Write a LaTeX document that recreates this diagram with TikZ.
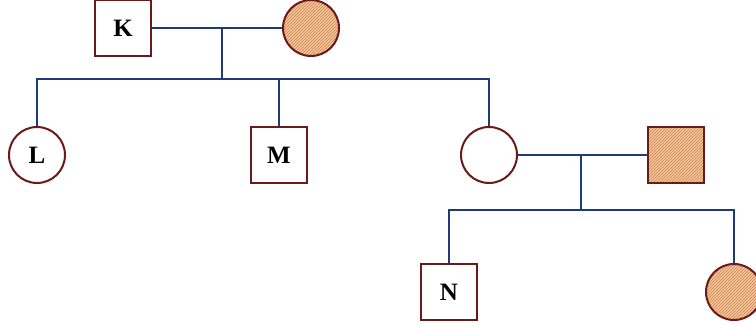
\documentclass[tikz,border=0pt]{standalone}
\usetikzlibrary{patterns}
\usepackage{fontspec}
\setmainfont{Liberation Serif}
\definecolor{edge}{HTML}{6B1A1A}
\definecolor{link}{HTML}{1F3A78}
\definecolor{hatchbg}{HTML}{F3C9A0}
\definecolor{hatchfg}{HTML}{D07E48}
\newcommand{\pedfont}{\fontsize{25}{28}\selectfont\bfseries}
\tikzset{
  male/.style={draw=edge, line width=2pt, minimum size=56pt, inner sep=0pt, fill=white, font=\pedfont},
  female/.style={draw=edge, line width=2pt, circle, minimum size=56pt, inner sep=0pt, fill=white, font=\pedfont},
  affected/.style={preaction={fill=hatchbg}, pattern=north east lines, pattern color=hatchfg},
  link/.style={draw=link, line width=2pt}
}
\begin{document}
\begin{tikzpicture}[x=1pt,y=-1pt]
\useasboundingbox (0,0) rectangle (756,326);
% generation I
\node[male] (K) at (123,28) {K};
\node[female,affected] (KW) at (311,28) {};
\coordinate (m1) at (222,29);
\coordinate (s1) at (222,79);
% generation II
\node[female] (L) at (37,155) {L};
\node[male] (M) at (279,155) {M};
\node[female] (D) at (489,155) {};
\node[male,affected] (DH) at (676,155) {};
\coordinate (b1L) at (37,79);
\coordinate (b1M) at (279,79);
\coordinate (b1D) at (489,79);
\coordinate (m2) at (581,155);
\coordinate (s2) at (581,210);
% generation III
\node[male] (N) at (449,292) {N};
\node[female,affected] (G) at (734,292) {};
\coordinate (b2N) at (449,210);
\coordinate (b2G) at (734,210);
% connectors
\path[link] (K.east) -- (KW.west);
\path[link] (m1) -- (s1);
\path[link] (L.north) -- (b1L) -- (b1D) -- (D.north);
\path[link] (b1M) -- (M.north);
\path[link] (D.east) -- (DH.west);
\path[link] (m2) -- (s2);
\path[link] (N.north) -- (b2N) -- (b2G) -- (G.north);
\end{tikzpicture}
\end{document}
